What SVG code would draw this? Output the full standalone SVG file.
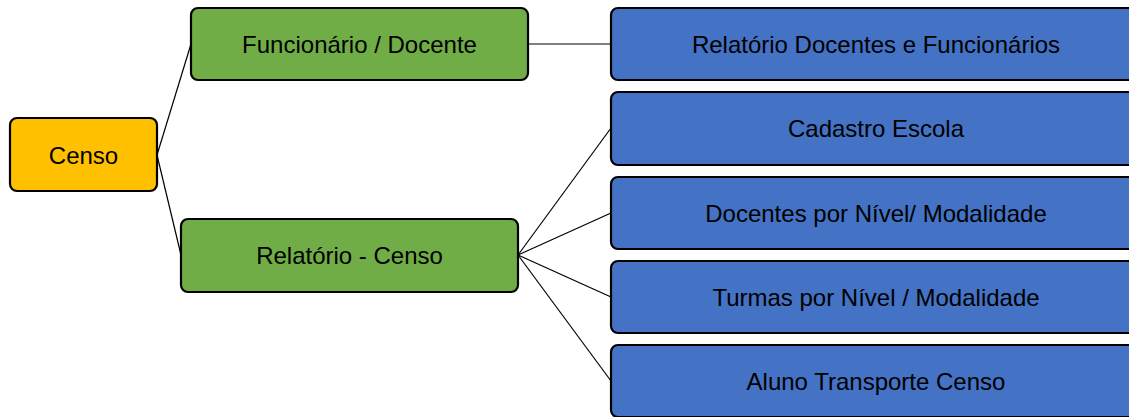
<svg xmlns="http://www.w3.org/2000/svg" width="1129" height="417" viewBox="0 0 1129 417">
  <style>
    .box { stroke: #000; stroke-width: 2.2; }
    .root { fill: #FFC000; }
    .mid { fill: #70AD47; }
    .leaf { fill: #4472C4; }
    .lbl { font-family: "Liberation Sans", Arial, sans-serif; font-size: 24px; fill: #000; text-anchor: middle; dominant-baseline: central; }
    .conn { stroke: #000; stroke-width: 1.2; fill: none; }
  </style>
  <rect width="1129" height="417" fill="#fff"/>
  <g id="connectors">
    <line class="conn" x1="157" y1="155" x2="191" y2="44"/>
    <line class="conn" x1="157" y1="155" x2="181" y2="255"/>
    <line class="conn" x1="528" y1="44" x2="611" y2="44"/>
    <line class="conn" x1="518" y1="255" x2="611" y2="128"/>
    <line class="conn" x1="518" y1="255" x2="611" y2="213"/>
    <line class="conn" x1="518" y1="255" x2="611" y2="297"/>
    <line class="conn" x1="518" y1="255" x2="611" y2="381"/>
  </g>
  <g id="censo">
    <rect class="box root" x="10" y="118" width="147" height="73" rx="7"/>
    <text class="lbl" x="83.5" y="155">Censo</text>
  </g>
  <g id="funcionario-docente">
    <rect class="box mid" x="191" y="8" width="337" height="72" rx="7"/>
    <text class="lbl" x="359.5" y="44">Funcionário / Docente</text>
  </g>
  <g id="relatorio-censo">
    <rect class="box mid" x="181" y="219" width="337" height="73" rx="7"/>
    <text class="lbl" x="349.5" y="255">Relatório - Censo</text>
  </g>
  <g id="relatorio-docentes-funcionarios">
    <rect class="box leaf" x="611" y="8" width="530" height="72" rx="7"/>
    <text class="lbl" x="876" y="44">Relatório Docentes e Funcionários</text>
  </g>
  <g id="cadastro-escola">
    <rect class="box leaf" x="611" y="92" width="530" height="73" rx="7"/>
    <text class="lbl" x="876" y="128.5">Cadastro Escola</text>
  </g>
  <g id="docentes-nivel">
    <rect class="box leaf" x="611" y="177" width="530" height="72" rx="7"/>
    <text class="lbl" x="876" y="213">Docentes por Nível/ Modalidade</text>
  </g>
  <g id="turmas-nivel">
    <rect class="box leaf" x="611" y="261" width="530" height="72" rx="7"/>
    <text class="lbl" x="876" y="297">Turmas por Nível / Modalidade</text>
  </g>
  <g id="aluno-transporte">
    <rect class="box leaf" x="611" y="345" width="530" height="72" rx="7"/>
    <text class="lbl" x="876" y="381">Aluno Transporte Censo</text>
  </g>
</svg>
